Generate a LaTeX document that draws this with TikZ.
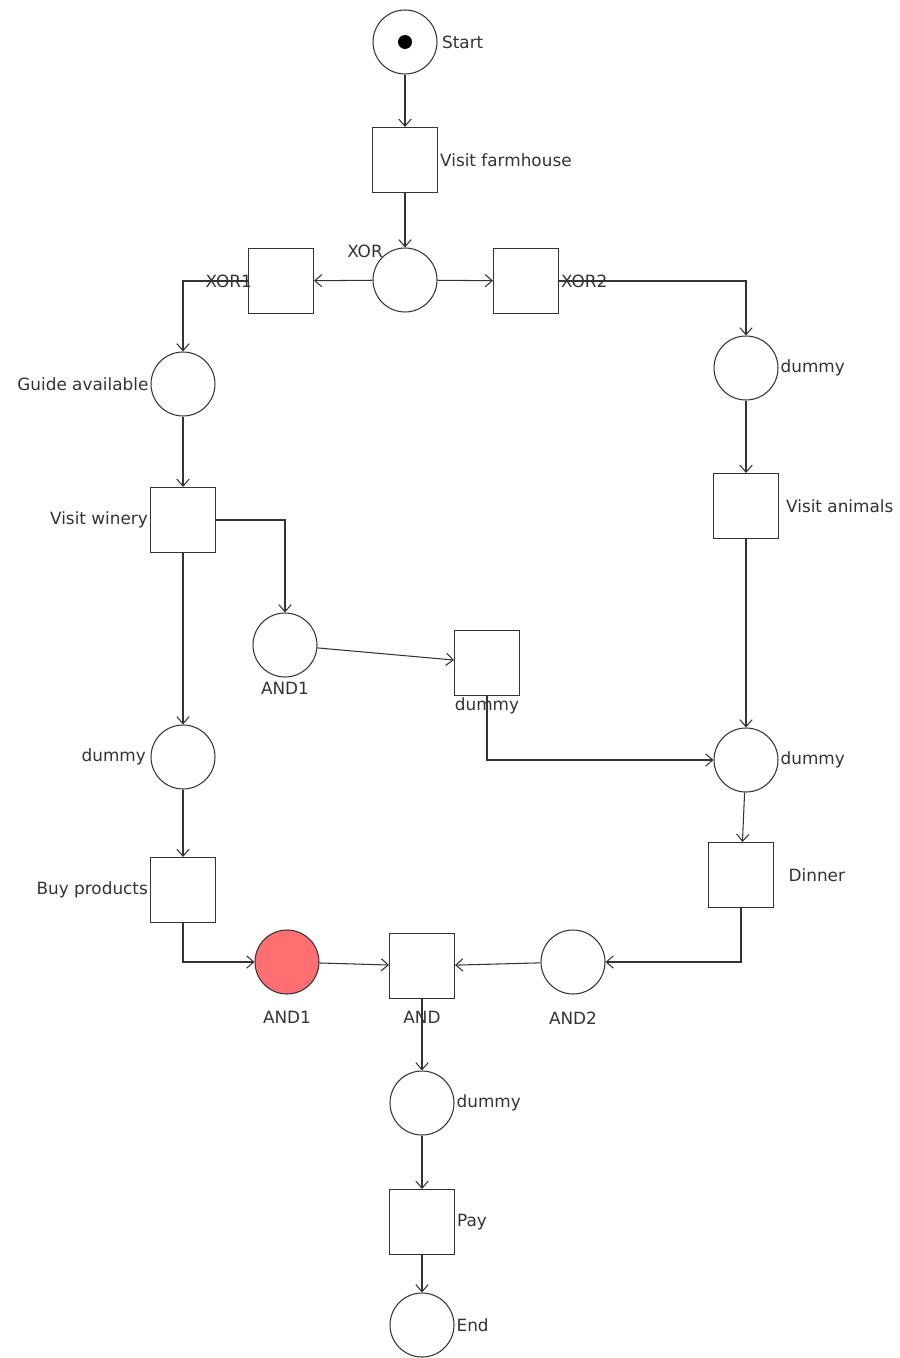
\documentclass[tikz,border=0pt]{standalone}
\usepackage{fontspec}
\setmainfont{DejaVu Sans}
\usetikzlibrary{arrows.meta}
\definecolor{netgray}{HTML}{333333}
\definecolor{markred}{HTML}{FF6F72}
\tikzset{
    place/.style={circle, draw=netgray, line width=0.6pt, fill=white, minimum size=1.28cm, inner sep=0pt},
    trans/.style={rectangle, draw=netgray, line width=0.6pt, fill=white, minimum size=1.3cm, inner sep=0pt},
    lbl/.style={font=\fontsize{9.6}{11}\selectfont, text=netgray, inner sep=1pt},
    arc/.style={-{Straight Barb[length=4pt,width=7pt]}, draw=netgray, line width=0.6pt}
}

\begin{document}
\begin{tikzpicture}[x=0.02cm, y=-0.02cm]
    \useasboundingbox (0,0) rectangle (899,1358);

    \node[place, label={[lbl, label distance=0.05cm]right:Start}] (start) at (405,42) {};
    \fill[black] (start.center) circle (0.14cm);
    \node[trans, label={[lbl]right:Visit farmhouse}] (farm) at (405,160) {};
    \node[place, label={[lbl, label distance=-0.08cm]north west:XOR}] (xor) at (405,280) {};
    \node[trans, label={[lbl, label distance=-0.12cm]left:XOR1}] (xor1) at (281,281) {};
    \node[trans, label={[lbl]right:XOR2}] (xor2) at (526,281) {};

    \node[place, label={[lbl]left:Guide available}] (guide) at (183,384) {};
    \node[trans, label={[lbl]left:Visit winery}] (winery) at (183,520) {};
    \node[place, label={[lbl, label distance=0.05cm]below:AND1}] (and1a) at (285,645) {};
    \node[trans, label={[lbl]below:dummy}] (dummyt) at (487,663) {};
    \node[place, label={[lbl, label distance=0.05cm]left:dummy}] (dummyl) at (183,757) {};
    \node[trans, label={[lbl]left:Buy products}] (buy) at (183,890) {};

    \node[place, label={[lbl]right:dummy}] (dummyr1) at (746,368) {};
    \node[trans, label={[lbl, label distance=0.1cm]right:Visit animals}] (animals) at (746,506) {};
    \node[place, label={[lbl]right:dummy}] (dummyr2) at (746,760) {};
    \node[trans, label={[lbl, label distance=0.25cm]right:Dinner}] (dinner) at (741,875) {};

    \node[place, fill=markred, label={[lbl, label distance=0.3cm]below:AND1}] (and1b) at (287,962) {};
    \node[trans, label={[lbl, label distance=0.2cm]below:AND}] (and) at (422,966) {};
    \node[place, label={[lbl, label distance=0.3cm]below:AND2}] (and2) at (573,962) {};

    \node[place, label={[lbl]right:dummy}] (dummyb) at (422,1103) {};
    \node[trans, label={[lbl]right:Pay}] (pay) at (422,1222) {};
    \node[place, label={[lbl]right:End}] (end) at (422,1325) {};

    % main line
    \draw[arc] (start) -- (farm);
    \draw[arc] (farm) -- (xor);
    \draw[arc] (xor) -- (xor1);
    \draw[arc] (xor) -- (xor2);
    \draw[arc] (xor1.west) -| (guide.north);
    \draw[arc] (xor2.east) -| (dummyr1.north);

    % left branch
    \draw[arc] (guide) -- (winery);
    \draw[arc] (winery.east) -| (and1a.north);
    \draw[arc] (winery) -- (dummyl);
    \draw[arc] (and1a) -- (dummyt);
    \draw[arc] (dummyt.south) |- (dummyr2.west);
    \draw[arc] (dummyl) -- (buy);
    \draw[arc] (buy.south) |- (and1b.west);

    % right branch
    \draw[arc] (dummyr1) -- (animals);
    \draw[arc] (animals) -- (dummyr2);
    \draw[arc] (dummyr2) -- (dinner);
    \draw[arc] (dinner.south) |- (and2.east);

    % join
    \draw[arc] (and1b) -- (and);
    \draw[arc] (and2) -- (and);
    \draw[arc] (and) -- (dummyb);
    \draw[arc] (dummyb) -- (pay);
    \draw[arc] (pay) -- (end);
\end{tikzpicture}
\end{document}
